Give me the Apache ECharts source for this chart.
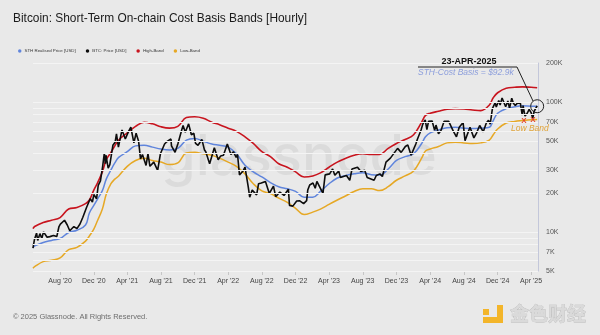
<!DOCTYPE html>
<html><head><meta charset="utf-8">
<script src="https://cdn.jsdelivr.net/npm/echarts@6/dist/echarts.min.js"></script>
<style>html,body{margin:0;padding:0;background:#e9e9e9}#c{width:600px;height:335px}</style>
</head><body><div id="c"></div><script>
// ---- data (values in USD thousands) ----
const bandDates = ['2020-04-25','2020-05-01','2020-06-01','2020-07-01','2020-08-01','2020-09-01','2020-10-01','2020-11-01','2020-11-15','2020-12-01','2020-12-15',
'2021-01-01','2021-01-15','2021-02-01','2021-02-15','2021-03-01','2021-04-01','2021-05-01','2021-06-01','2021-07-01','2021-08-01','2021-09-01','2021-10-01','2021-11-01','2021-12-01',
'2022-01-01','2022-02-01','2022-03-01','2022-04-01','2022-05-01','2022-06-01','2022-07-01','2022-08-01','2022-09-01','2022-10-01','2022-11-01','2022-12-01',
'2023-01-01','2023-02-01','2023-03-01','2023-04-01','2023-05-01','2023-06-01','2023-07-01','2023-08-01','2023-09-01','2023-10-01','2023-11-01','2023-12-01',
'2024-01-01','2024-02-01','2024-03-01','2024-03-15','2024-04-01','2024-05-01','2024-06-01','2024-07-01','2024-08-01','2024-09-01','2024-10-01','2024-11-01','2024-11-15','2024-12-01',
'2025-01-01','2025-02-01','2025-03-01','2025-04-01','2025-04-23'];
const sthValues = [7.55,7.8,8.3,8.6,8.9,9.9,10.3,11.3,14.0,16.0,18.0,
20.8,25.5,30.0,34.0,37.5,41.5,46.0,46.5,45.0,43.5,42.8,44.0,51.0,52.5,
50.0,47.5,46.5,45.0,40.0,32.6,29.0,26.5,24.0,22.3,21.5,20.5,
18.5,18.5,20.5,23.5,26.0,27.2,28.0,28.5,27.6,27.4,30.5,35.5,
38.0,40.0,48.0,54.0,58.0,61.0,63.5,64.0,63.0,62.5,63.0,64.0,72.0,82.0,
89.0,92.0,93.5,93.0,92.9];
const highValues = [10.6,11.0,11.8,12.3,12.9,15.0,15.4,16.5,17.6,21.0,24.0,
29.0,36.0,41.0,46.0,51.0,58.0,65.0,70.0,68.0,64.5,63.0,65.0,76.0,77.0,
75.0,70.0,67.0,63.0,59.5,54.0,48.0,41.5,38.0,33.5,31.5,29.0,
26.5,27.0,28.5,31.5,34.5,37.0,39.0,40.0,39.5,39.5,44.0,48.0,
51.5,56.0,70.0,79.0,82.0,85.0,88.0,89.0,88.5,87.0,86.0,95.0,108.0,118.0,
128.0,130.0,131.0,130.0,129.0];
const lowValues = [5.25,5.4,5.9,6.05,6.3,7.3,7.6,8.5,9.3,10.5,12.3,
15.0,19.5,23.5,25.5,27.0,32.0,35.5,37.0,35.5,34.5,33.0,34.0,40.5,41.0,
40.0,39.0,37.0,34.5,32.0,28.0,23.5,20.7,19.7,18.2,16.9,15.2,
13.6,14.2,15.0,16.3,17.6,19.0,20.5,21.5,21.5,20.8,22.3,25.0,
27.0,29.5,37.0,42.0,43.5,45.5,48.5,49.0,48.5,48.0,48.5,51.0,56.0,62.0,
69.0,71.0,72.0,73.0,73.5];

const priceDates = ['2020-04-25','2020-04-30','2020-05-08','2020-05-12','2020-05-20','2020-05-27','2020-06-02','2020-06-15','2020-06-25','2020-07-08','2020-07-20','2020-07-28',
'2020-08-02','2020-08-17','2020-08-27','2020-09-05','2020-09-20','2020-10-01','2020-10-12','2020-10-22','2020-11-05','2020-11-18','2020-11-26','2020-12-01','2020-12-11','2020-12-17','2020-12-25',
'2021-01-02','2021-01-08','2021-01-12','2021-01-14','2021-01-22','2021-01-28','2021-02-08','2021-02-16','2021-02-21','2021-02-28','2021-03-13','2021-03-25','2021-04-05','2021-04-14','2021-04-25',
'2021-05-03','2021-05-10','2021-05-12','2021-05-19','2021-05-26','2021-06-08','2021-06-15','2021-06-22','2021-07-06','2021-07-20','2021-07-30','2021-08-14','2021-08-22','2021-09-06','2021-09-08',
'2021-09-21','2021-10-01','2021-10-15','2021-10-20','2021-10-28','2021-11-09','2021-11-19','2021-11-28','2021-12-04','2021-12-13','2021-12-27',
'2022-01-05','2022-01-10','2022-01-24','2022-02-10','2022-02-24','2022-03-05','2022-03-15','2022-03-29','2022-04-11','2022-04-20','2022-04-30','2022-05-05','2022-05-12','2022-05-25',
'2022-06-01','2022-06-13','2022-06-18','2022-06-27','2022-07-13','2022-07-20','2022-07-30','2022-08-14','2022-08-28','2022-09-12','2022-09-20','2022-10-05','2022-10-20','2022-11-05',
'2022-11-09','2022-11-21','2022-12-05','2022-12-15','2022-12-30',
'2023-01-10','2023-01-14','2023-01-21','2023-02-02','2023-02-10','2023-02-16','2023-03-10','2023-03-18','2023-03-24','2023-04-03','2023-04-14','2023-04-22','2023-05-06','2023-05-12',
'2023-06-03','2023-06-15','2023-06-23','2023-07-13','2023-07-25','2023-08-08','2023-08-17','2023-09-11','2023-09-19','2023-10-02','2023-10-11','2023-10-24','2023-11-09','2023-11-16',
'2023-12-05','2023-12-18',
'2024-01-02','2024-01-11','2024-01-23','2024-02-09','2024-02-15','2024-02-28','2024-03-05','2024-03-14','2024-03-20','2024-03-26','2024-04-08','2024-04-17','2024-04-22','2024-05-01',
'2024-05-10','2024-05-21','2024-06-07','2024-06-24','2024-07-05','2024-07-15','2024-07-29','2024-08-05','2024-08-23','2024-09-06','2024-09-16','2024-09-27','2024-10-10','2024-10-21',
'2024-10-29','2024-11-04','2024-11-12','2024-11-22','2024-11-26','2024-12-05','2024-12-10','2024-12-17','2024-12-30',
'2025-01-07','2025-01-13','2025-01-21','2025-01-27','2025-02-03','2025-02-09','2025-02-21','2025-02-28','2025-03-03','2025-03-10','2025-03-18','2025-03-25','2025-04-01','2025-04-07',
'2025-04-12','2025-04-17','2025-04-23'];
const priceValues = [7.5,8.7,9.8,8.6,9.7,8.9,10.0,9.1,9.2,9.4,9.2,11.0,
11.5,12.3,11.3,10.2,11.0,10.6,11.5,12.9,15.5,18.0,17.0,19.4,18.0,22.8,24.7,
32.0,40.5,33.5,39.0,31.0,33.0,46.5,49.0,57.0,45.0,61.0,52.0,59.0,64.0,48.5,
57.5,58.0,50.0,36.5,39.5,32.5,40.0,32.0,34.5,29.8,40.0,47.5,49.5,52.0,46.0,
41.0,47.5,61.0,66.0,58.5,68.0,56.0,57.5,48.0,46.5,51.5,
43.0,41.5,33.5,44.5,36.0,38.5,39.0,47.5,39.5,41.5,37.5,39.5,27.5,29.5,
31.5,22.0,18.5,21.0,19.3,23.5,23.8,24.5,19.8,22.5,18.7,20.3,19.1,21.3,
16.0,15.8,17.3,17.4,16.5,
17.4,21.0,23.0,23.8,21.7,24.5,19.8,27.5,27.5,28.0,30.5,27.3,29.5,26.3,
27.2,25.0,30.5,31.5,29.2,29.8,26.2,25.0,27.2,28.0,26.7,34.5,37.0,36.0,
44.0,41.0,
45.5,46.8,39.0,47.5,52.0,61.0,67.5,73.0,61.5,71.0,71.5,60.5,66.5,57.0,
60.5,71.0,71.0,59.5,54.0,64.0,69.5,50.5,64.0,53.0,58.0,66.0,59.0,69.0,
72.5,67.5,89.0,99.0,91.5,103.0,95.0,107.5,92.0,
102.0,89.5,107.0,98.0,94.0,97.5,98.5,79.5,94.0,78.0,82.0,88.0,83.0,75.0,
85.0,84.5,93.4];

const xTickDates = ['2020-08-01','2020-12-01','2021-04-01','2021-08-01','2021-12-01','2022-04-01','2022-08-01','2022-12-01','2023-04-01','2023-08-01','2023-12-01','2024-04-01','2024-08-01','2024-12-01','2025-04-01'];
const xTickLabels = ["Aug '20","Dec '20","Apr '21","Aug '21","Dec '21","Apr '22","Aug '22","Dec '22","Apr '23","Aug '23","Dec '23","Apr '24","Aug '24","Dec '24","Apr '25"];
const xMinDate = '2020-04-25', xMaxDate = '2025-04-26';
const yGridValues = [5000,6000,7000,8000,9000,10000,20000,30000,40000,50000,60000,70000,80000,90000,100000,200000];
const yLabelValues = [5000,7000,10000,20000,30000,50000,70000,100000,200000];
const yLabelTexts = ['5K','7K','10K','20K','30K','50K','70K','100K','200K'];

const annotDate = '2025-04-23';
const annotValue = 92900;
const lowMarkDates = ['2025-03-06','2025-04-08'];
const lowMarkValues = [72000,73000];

// ---- build ----
const ts = s => { const p = s.split('-'); return Date.UTC(+p[0], +p[1] - 1, +p[2]); };
const pairs = (d, v) => d.map((x, i) => [ts(x), v[i] * 1000]);
const tickVals = xTickDates.map(ts);
const tickLabelFor = v => { let best = -1, bd = Infinity; tickVals.forEach((t, i) => { const d = Math.abs(t - v); if (d < bd) { bd = d; best = i; } }); return bd < 864e5 ? xTickLabels[best] : ''; };

const C_STH = '#6085dc', C_PRICE = '#0d0d0d', C_HIGH = '#c8141e', C_LOW = '#e6a825';

const chart = echarts.init(document.getElementById('c'));
chart.setOption({
  backgroundColor: '#e9e9e9',
  animation: false,
  title: {
    text: 'Bitcoin: Short-Term On-chain Cost Basis Bands [Hourly]',
    left: 8, top: 8,
    textStyle: { fontFamily: 'Liberation Sans', fontSize: 11.9, fontWeight: 'normal', color: '#1a1a1a' }
  },
  legend: {
    left: 13, top: 44, icon: 'circle', itemWidth: 3.5, itemHeight: 3.5, itemGap: 10,
    textStyle: { fontSize: 4.4, color: '#333', fontFamily: 'Liberation Sans', padding: [0, 0, 0, -2] },
    data: ['STH Realised Price [USD]', 'BTC: Price [USD]', 'High-Band', 'Low-Band']
  },
  grid: { left: 33, right: 62, top: 63, bottom: 64 },
  xAxis: {
    type: 'value', min: ts(xMinDate), max: ts(xMaxDate),
    axisLine: { show: false }, splitLine: { show: false },
    axisTick: { show: true, customValues: tickVals, length: 4, lineStyle: { color: '#c6c6c6' } },
    axisLabel: { customValues: tickVals, formatter: v => tickLabelFor(v), fontSize: 7, color: '#444', margin: 7, fontFamily: 'Liberation Sans' }
  },
  yAxis: {
    type: 'log', logBase: 10, min: 5000, max: 200000, position: 'right',
    axisLine: { show: true, lineStyle: { color: '#c3c7da', width: 1 } },
    axisTick: { show: false }, axisLabel: { show: false }, splitLine: { show: false }
  },
  graphic: [
    { type: 'text', x: 299, y: 158, z: 0, silent: true,
      style: { text: 'glassnode', fontFamily: 'Inter', fontWeight: 500, fontSize: 56, fill: 'rgba(0,0,0,0.06)', textAlign: 'center', textVerticalAlign: 'middle' } },
    { type: 'text', x: 469, y: 62, z: 10,
      style: { text: '23-APR-2025', fontFamily: 'Liberation Sans', fontWeight: 'bold', fontSize: 9, fill: '#111', textAlign: 'center', textVerticalAlign: 'middle' } },
    { type: 'line', z: 10, shape: { x1: 418, y1: 67, x2: 517, y2: 67 }, style: { stroke: '#222', lineWidth: 1 } },
    { type: 'line', z: 10, shape: { x1: 517, y1: 67, x2: 533, y2: 101 }, style: { stroke: '#222', lineWidth: 1 } },
    { type: 'text', x: 418, y: 73, z: 10,
      style: { text: 'STH-Cost Basis = $92.9k', fontFamily: 'Liberation Sans', fontStyle: 'italic', fontSize: 8.5, fill: '#8c9edc', textAlign: 'left', textVerticalAlign: 'middle' } },
    { type: 'text', x: 511, y: 129, z: 10,
      style: { text: 'Low Band', fontFamily: 'Liberation Sans', fontStyle: 'italic', fontSize: 8.5, fill: '#e0a43a', textAlign: 'left', textVerticalAlign: 'middle' } },
    { type: 'text', x: 13, y: 317, z: 10,
      style: { text: '© 2025 Glassnode. All Rights Reserved.', fontFamily: 'Liberation Sans', fontSize: 7.5, fill: '#6e6e6e', textAlign: 'left', textVerticalAlign: 'middle' } },
    { type: 'rect', z: 10, shape: { x: 497, y: 305, width: 6, height: 18 }, style: { fill: '#f3b52a' } },
    { type: 'rect', z: 10, shape: { x: 483, y: 317, width: 20, height: 6 }, style: { fill: '#f3b52a' } },
    { type: 'rect', z: 10, shape: { x: 483, y: 309, width: 6, height: 6 }, style: { fill: '#f3b52a' } },
    { type: 'text', x: 510, y: 314, z: 10,
      style: { text: '金色财经', fontFamily: 'Noto Sans CJK SC', fontWeight: 'bold', fontSize: 19, fill: '#dadada', stroke: '#b8b8b8', lineWidth: 0.6, textAlign: 'left', textVerticalAlign: 'middle' } }
  ],
  series: [
    { type: 'line', name: 'grid', data: [], silent: true, z: 1,
      markLine: {
        silent: true, symbol: ['none', 'none'], animation: false,
        lineStyle: { color: '#f4f4f4', width: 1, type: 'solid' },
        label: { position: 'end', distance: 8, fontSize: 7, color: '#555', fontFamily: 'Liberation Sans' },
        data: yGridValues.map(v => { const i = yLabelValues.indexOf(v); return { yAxis: v, label: { show: i >= 0, formatter: i >= 0 ? yLabelTexts[i] : '' } }; })
      } },
    { type: 'line', name: 'Low-Band', data: pairs(bandDates, lowValues), smooth: 0.4, showSymbol: false, z: 2,
      lineStyle: { color: C_LOW, width: 1.5 }, itemStyle: { color: C_LOW },
      markPoint: { symbol: 'circle', symbolSize: 1, itemStyle: { color: 'rgba(0,0,0,0)' },
        label: { show: true, formatter: 'X', position: 'inside', color: '#e5452c', fontSize: 8, fontWeight: 'bold', fontFamily: 'Liberation Sans' },
        data: lowMarkDates.map((d, i) => ({ coord: [ts(d), lowMarkValues[i]] })) } },
    { type: 'line', name: 'STH Realised Price [USD]', data: pairs(bandDates, sthValues), smooth: 0.4, showSymbol: false, z: 2,
      lineStyle: { color: C_STH, width: 1.5 }, itemStyle: { color: C_STH },
      markPoint: { symbol: 'circle', symbolSize: 13, itemStyle: { color: 'rgba(0,0,0,0)', borderColor: '#222', borderWidth: 1 },
        label: { show: false }, data: [{ coord: [ts(annotDate), annotValue] }] } },
    { type: 'line', name: 'High-Band', data: pairs(bandDates, highValues), smooth: 0.4, showSymbol: false, z: 2,
      lineStyle: { color: C_HIGH, width: 1.6 }, itemStyle: { color: C_HIGH } },
    { type: 'line', name: 'BTC: Price [USD]', data: pairs(priceDates, priceValues), showSymbol: false, z: 3,
      lineStyle: { color: C_PRICE, width: 1.6 }, itemStyle: { color: C_PRICE } }
  ]
});
</script></body></html>
